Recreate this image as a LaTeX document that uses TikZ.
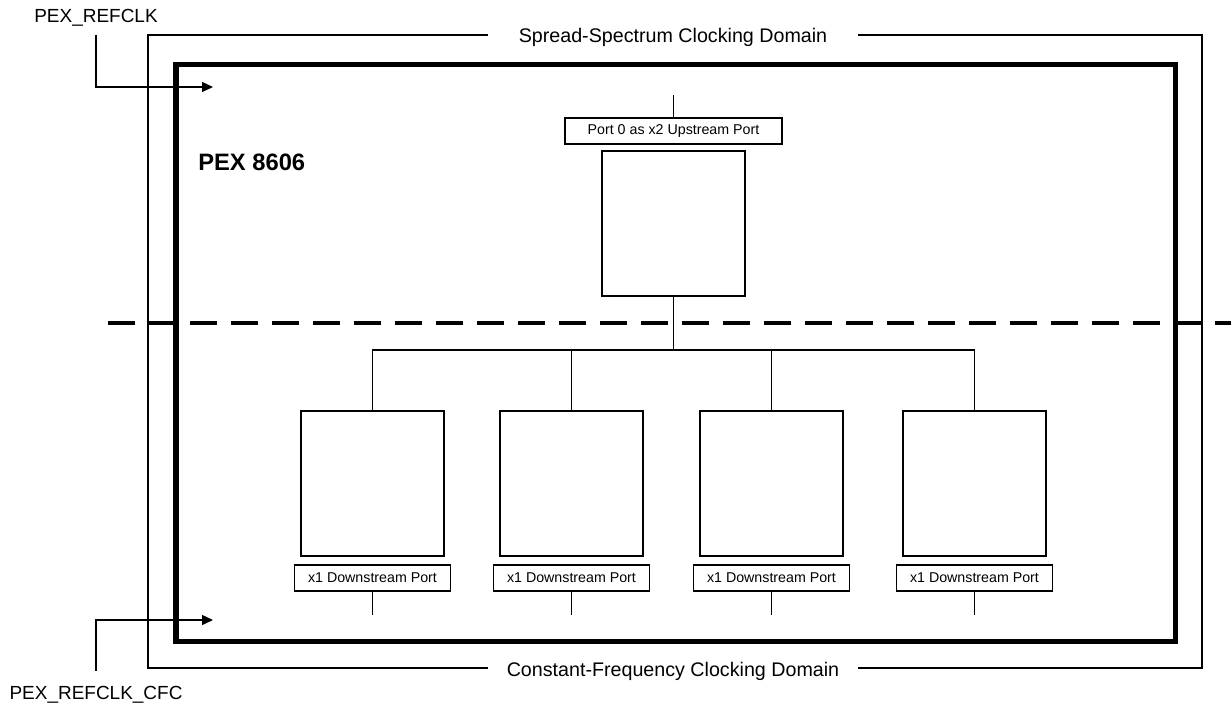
\documentclass[tikz,border=0pt]{standalone}
\usepackage{fontspec}
\setmainfont{Liberation Sans}
\usetikzlibrary{arrows.meta,positioning}

\begin{document}
\begin{tikzpicture}[x=0.02cm,y=-0.02cm,
  clkdomain/.style={draw,line width=0.8pt},
  chip/.style={draw,line width=2.85pt},
  portbox/.style={rectangle,draw,line width=0.9pt,minimum width=2.86cm,minimum height=2.9cm},
  portlabel/.style={rectangle,draw,line width=0.8pt,font=\fontsize{8.1}{9.5}\selectfont,minimum height=0.52cm,inner sep=0pt},
  domlabel/.style={fill=white,inner xsep=0pt,minimum width=7.4cm,inner ysep=1pt,font=\fontsize{11.2}{13}\selectfont},
  clklabel/.style={font=\fontsize{10.8}{13}\selectfont},
  wire/.style={line width=1pt},
  clk/.style={-{Triangle[length=0.22cm,width=0.2cm]},line width=0.8pt}]
\useasboundingbox (0,0) rectangle (1231,707);
% clocking domains
\draw[clkdomain] (148,35) rectangle (1202,668);
\node[domlabel,anchor=base] (ssc) at (673,42) {Spread-Spectrum Clocking Domain};
\node[domlabel,anchor=base] (cfc) at (673,676) {Constant-Frequency Clocking Domain};
\draw[line width=2.4pt,dash pattern=on 0.54cm off 0.28cm] (108,323) -- (1231,323);
% switch
\draw[chip] (176,64) rectangle (1175,641);
\node[anchor=base west,inner sep=0pt,font=\fontsize{13.5}{16}\selectfont\bfseries] (pex) at (198,170) {PEX 8606};
% upstream port
\node[portbox] (up) at (673.5,223.5) {};
\node[portlabel,minimum width=4.34cm] (uplbl) at (673.5,131) {Port 0 as x2 Upstream Port};
\coordinate (uptop) at (673.5,95);
\coordinate (bus) at (673.5,350);
\draw[wire] (uptop) -- (uplbl.north);
\draw[wire] (up.south) -- (bus);
% downstream ports
\foreach \i/\x in {1/372.5,2/571.5,3/771.5,4/974.5}{
  \node[portbox] (dn\i) at (\x,483.5) {};
  \node[portlabel,minimum width=3.12cm] (dnlbl\i) at (\x,578) {x1 Downstream Port};
  \coordinate (dnend\i) at (\x,615);
  \draw[wire] (bus) -| (dn\i.north);
  \draw[wire] (dnlbl\i.south) -- (dnend\i);
}
% reference clocks
\node[clklabel,anchor=base] (refclk) at (96,22) {PEX\_REFCLK};
\node[clklabel,anchor=base] (cfcclk) at (96,699) {PEX\_REFCLK\_CFC};
\coordinate (refin) at (213,87);
\coordinate (cfcin) at (213,620);
\draw[clk,shorten <=0.06cm] (refclk.south) |- (refin);
\draw[clk,shorten <=0.18cm] (cfcclk.north) |- (cfcin);
\end{tikzpicture}
\end{document}
